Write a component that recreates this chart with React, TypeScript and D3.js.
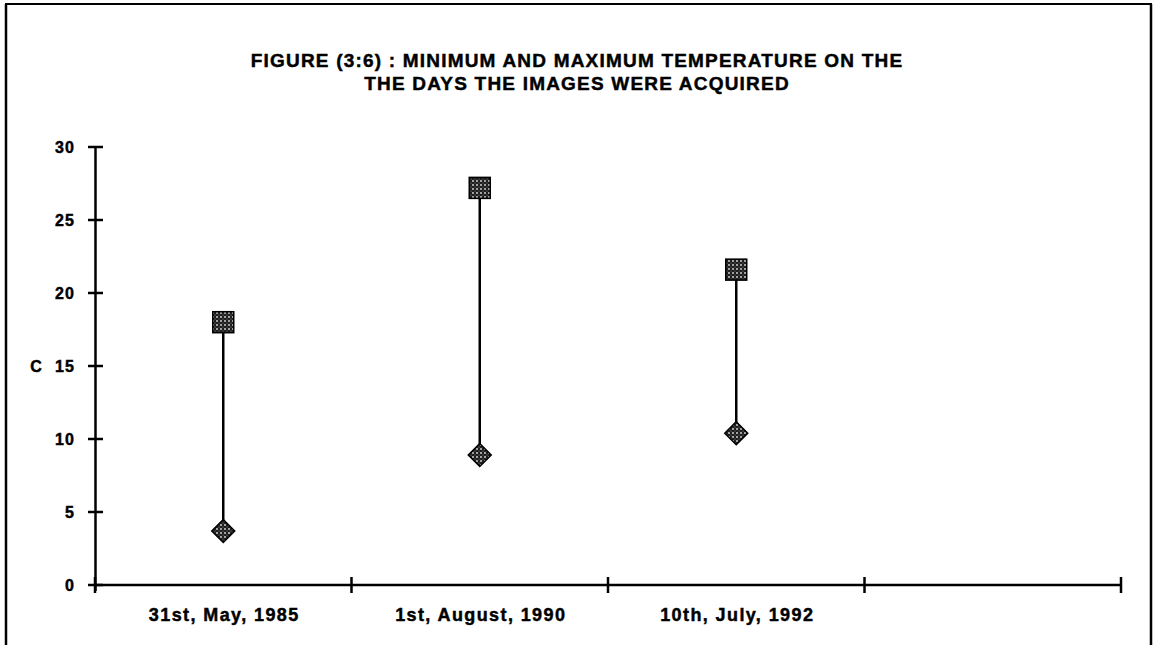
import React from "react";
import * as d3 from "d3";

const categories = ["31st, May, 1985", "1st, August, 1990", "10th, July, 1992", ""];
const maxTemps = [18.0, 27.2, 21.6];
const minTemps = [3.7, 8.9, 10.4];
const yTicks = [0, 5, 10, 15, 20, 25, 30];
const titleLines = [
  "FIGURE (3:6) : MINIMUM AND MAXIMUM TEMPERATURE ON THE",
  "THE DAYS THE IMAGES WERE ACQUIRED",
];
const yLabel = "C";

const W = 1154;
const H = 645;
const FONT = "'Liberation Sans', Arial, sans-serif";

export default function App() {
  const x = d3.scaleBand<string>().domain(categories.map((c, i) => String(i))).range([95, 1121]).padding(0);
  const y = d3.scaleLinear().domain([0, 30]).range([585, 147]);
  const bw = x.bandwidth();
  const boundaries = d3.range(categories.length + 1).map((i) => 95 + i * bw);
  const textStroke = { stroke: "#000", strokeWidth: 0.45 };

  return (
    <svg width={W} height={H} style={{ position: "absolute", left: 0, top: 0, background: "#fff" }}>
      <defs>
        <pattern id="dots" width="4" height="4" patternUnits="userSpaceOnUse">
          <rect width="4" height="4" fill="#1e1e1e" />
          <circle cx="1" cy="1" r="0.9" fill="#e0e0e0" />
          <circle cx="3" cy="3" r="0.6" fill="#888" />
        </pattern>
      </defs>
      {/* frame */}
      <line x1={5} y1={4} x2={1152} y2={4} stroke="#000" strokeWidth={2} />
      <line x1={6} y1={4} x2={6} y2={H} stroke="#000" strokeWidth={2.5} />
      <line x1={1151} y1={4} x2={1151} y2={H} stroke="#000" strokeWidth={2.5} />

      {titleLines.map((t, i) => (
        <text key={i} x={577} y={67 + i * 23} textAnchor="middle" fontFamily={FONT} fontWeight="bold" fontSize={19} letterSpacing={1.2} fill="#000" {...textStroke}>
          {t}
        </text>
      ))}

      {/* y axis */}
      <line x1={95.5} y1={y(30)} x2={95.5} y2={y(0) + 6} stroke="#000" strokeWidth={2.5} />
      {yTicks.map((t) => (
        <g key={t}>
          <line x1={88} x2={103} y1={y(t)} y2={y(t)} stroke="#000" strokeWidth={2.5} />
          <text x={75} y={y(t) + 6} textAnchor="end" fontFamily={FONT} fontWeight="bold" fontSize={16} letterSpacing={1.1} {...textStroke}>
            {t}
          </text>
        </g>
      ))}
      <text x={36} y={y(15) + 6} textAnchor="middle" fontFamily={FONT} fontWeight="bold" fontSize={16} {...textStroke}>
        {yLabel}
      </text>

      {/* x axis */}
      <line x1={95} x2={1121} y1={y(0)} y2={y(0)} stroke="#000" strokeWidth={2.5} />
      {boundaries.map((b, i) => (
        <line key={i} x1={b} x2={b} y1={y(0) - 8} y2={y(0) + 8} stroke="#000" strokeWidth={2.5} />
      ))}
      {categories.map((c, i) => (
        <text key={i} x={(x(String(i)) as number) + bw / 2 + 1} y={621} textAnchor="middle" fontFamily={FONT} fontWeight="bold" fontSize={18} letterSpacing={1.4} {...textStroke}>
          {c}
        </text>
      ))}

      {/* hi-lo lines and markers */}
      {maxTemps.map((mx, i) => {
        const cx = (x(String(i)) as number) + bw / 2;
        const mn = minTemps[i];
        return (
          <g key={i}>
            <line x1={cx} x2={cx} y1={y(mx)} y2={y(mn)} stroke="#000" strokeWidth={2.5} />
            <rect x={cx - 10.5} y={y(mx) - 10.5} width={21} height={21} fill="url(#dots)" stroke="#000" strokeWidth={1.5} />
            <path
              d={`M${cx},${y(mn) - 11.5} L${cx + 11.5},${y(mn)} L${cx},${y(mn) + 11.5} L${cx - 11.5},${y(mn)} Z`}
              fill="url(#dots)"
              stroke="#000"
              strokeWidth={1.5}
            />
          </g>
        );
      })}
    </svg>
  );
}
